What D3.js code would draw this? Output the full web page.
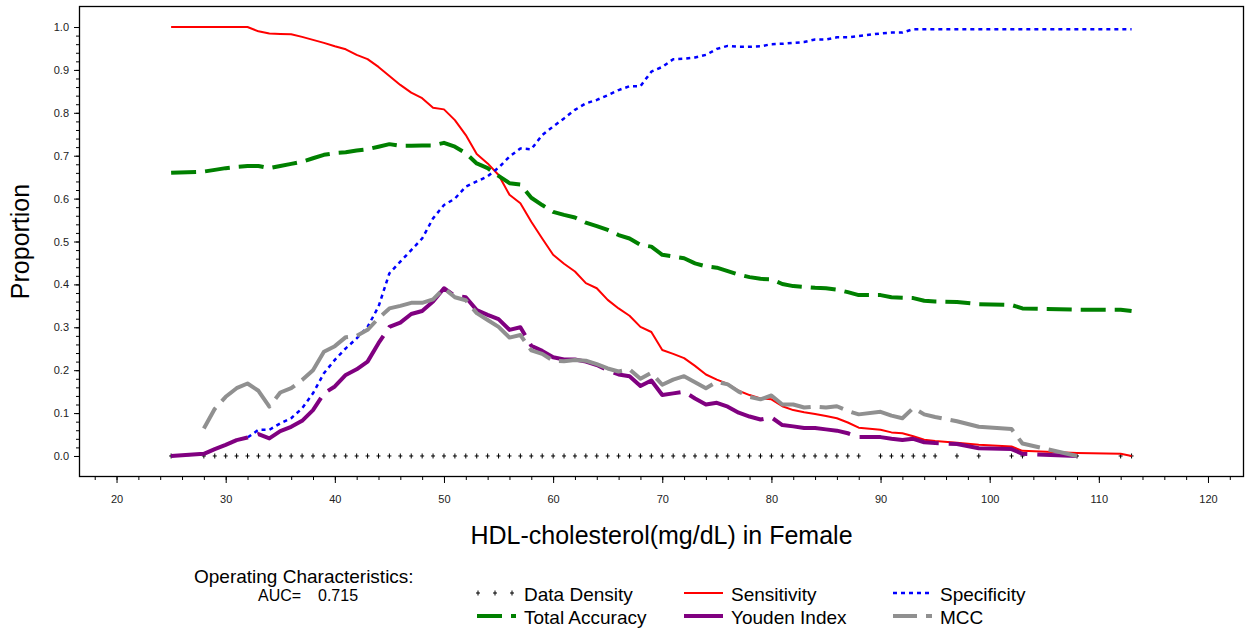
<!DOCTYPE html>
<html>
<head>
<meta charset="utf-8">
<script src="https://cdn.jsdelivr.net/npm/d3@7"></script>
<style>
  html, body { margin: 0; padding: 0; background: #fff; }
  svg { display: block; font-family: "Liberation Sans", Arial, sans-serif; }
</style>
</head>
<body>
<svg id="chart" width="1253" height="632"></svg>
<script>
// ---- data ----
const cutoffs = [25,28,29,30,31,32,33,34,35,36,37,38,39,40,41,42,43,44,45,46,47,48,49,50,51,52,53,54,55,56,57,58,59,60,61,62,63,64,65,66,67,68,69,70,71,72,73,74,75,76,77,78,79,80,81,82,83,84,85,86,87,88,90,91,92,93,94,95,97,99,102,103,108,112,113];

const sensitivity = [1.000,1.000,1.000,1.000,1.000,1.000,0.990,0.985,0.984,0.983,0.977,0.970,0.963,0.955,0.948,0.935,0.925,0.907,0.886,0.865,0.847,0.834,0.812,0.808,0.783,0.748,0.704,0.682,0.655,0.609,0.589,0.546,0.507,0.469,0.448,0.430,0.403,0.391,0.364,0.344,0.327,0.301,0.289,0.247,0.238,0.228,0.210,0.190,0.178,0.168,0.152,0.142,0.134,0.132,0.116,0.107,0.102,0.098,0.093,0.088,0.078,0.066,0.061,0.055,0.053,0.046,0.038,0.035,0.031,0.026,0.022,0.012,0.007,0.005,0.000];

const specificity = [0.000,0.005,0.016,0.026,0.037,0.043,0.061,0.061,0.076,0.088,0.111,0.146,0.193,0.224,0.251,0.274,0.301,0.348,0.426,0.453,0.480,0.507,0.554,0.585,0.600,0.628,0.640,0.652,0.672,0.698,0.717,0.715,0.748,0.768,0.787,0.807,0.822,0.830,0.841,0.853,0.862,0.862,0.896,0.907,0.925,0.926,0.929,0.935,0.949,0.956,0.954,0.954,0.955,0.960,0.961,0.963,0.965,0.971,0.971,0.976,0.976,0.979,0.985,0.987,0.987,0.995,0.995,0.995,0.995,0.995,0.995,0.995,0.995,0.995,0.995];

const totalAccuracy = [0.660,0.663,0.667,0.671,0.674,0.676,0.676,0.671,0.676,0.681,0.686,0.694,0.702,0.706,0.708,0.712,0.715,0.721,0.727,0.723,0.723,0.724,0.724,0.730,0.721,0.706,0.682,0.671,0.653,0.636,0.633,0.602,0.585,0.569,0.562,0.556,0.544,0.536,0.527,0.515,0.507,0.492,0.488,0.469,0.465,0.461,0.449,0.442,0.439,0.431,0.423,0.417,0.413,0.412,0.401,0.396,0.394,0.392,0.391,0.388,0.382,0.375,0.375,0.370,0.369,0.368,0.362,0.360,0.359,0.354,0.352,0.344,0.341,0.341,0.338];

const youden = [0.000,0.005,0.016,0.026,0.037,0.043,0.051,0.041,0.058,0.068,0.082,0.107,0.146,0.162,0.189,0.202,0.220,0.263,0.301,0.311,0.331,0.338,0.360,0.391,0.373,0.370,0.340,0.329,0.319,0.294,0.300,0.257,0.245,0.230,0.225,0.225,0.220,0.212,0.200,0.190,0.186,0.163,0.176,0.142,0.146,0.150,0.134,0.120,0.124,0.115,0.101,0.092,0.085,0.090,0.072,0.069,0.065,0.065,0.062,0.059,0.053,0.044,0.044,0.040,0.037,0.040,0.032,0.030,0.028,0.018,0.016,0.005,0.000,null,null];

const mcc = [null,0.064,0.110,0.138,0.158,0.169,0.152,0.115,0.148,0.158,0.177,0.200,0.243,0.256,0.277,0.280,0.294,0.321,0.344,0.350,0.357,0.357,0.365,0.391,0.370,0.363,0.333,0.317,0.301,0.276,0.282,0.246,0.238,0.222,0.221,0.224,0.222,0.214,0.204,0.197,0.202,0.180,0.194,0.166,0.178,0.186,0.172,0.158,0.173,0.167,0.150,0.138,0.132,0.141,0.120,0.120,0.113,0.115,0.113,0.116,0.105,0.097,0.103,0.094,0.088,0.112,0.097,0.091,0.081,0.068,0.063,0.029,0.000,null,null];

const densityX = cutoffs;

const xTicks = [20,30,40,50,60,70,80,90,100,110,120];
const yTicks = [0,0.1,0.2,0.3,0.4,0.5,0.6,0.7,0.8,0.9,1.0];
const xMinorTicks = d3.range(18, 124, 2);
const yMinorTicks = d3.range(0, 51).map(i => i * 0.02).filter(v => v <= 1.0001);

const xTitle = "HDL-cholesterol(mg/dL) in Female";
const yTitle = "Proportion";
const aucLabel = "AUC=";
const aucValue = "0.715";
const legendTitle = "Operating Characteristics:";

// ---- series styling ----
const series = [
  { name: "Sensitivity",    values: sensitivity,   color: "#ff0000", width: 2,   dash: null },
  { name: "Specificity",    values: specificity,   color: "#0000ff", width: 2.5, dash: "4,4" },
  { name: "Total Accuracy", values: totalAccuracy, color: "#008000", width: 4,   dash: "25,9" },
  { name: "Youden Index",   values: youden,        color: "#800080", width: 4,   dash: "80,10" },
  { name: "MCC",            values: mcc,           color: "#909090", width: 4,   dash: "24,9,65,9" }
];

const svg = d3.select("#chart");
const L = 79, R = 1244, T = 6, B = 477;

const x = d3.scaleLinear().domain([16.56, 123.3]).range([L, R]);
const y = d3.scaleLinear().domain([-0.049, 1.049]).range([B, T]);

// axes
const font = "'Liberation Sans', Arial, sans-serif";
const gy = svg.append("g").attr("transform", `translate(${L},0)`)
  .call(d3.axisLeft(y).tickValues(yTicks).tickSize(5).tickPadding(5).tickFormat(d3.format(".1f")));
const gyMinor = svg.append("g").attr("transform", `translate(${L},0)`)
  .call(d3.axisLeft(y).tickValues(yMinorTicks).tickSize(3).tickFormat(""));
const gx = svg.append("g").attr("transform", `translate(0,${B})`)
  .call(d3.axisBottom(x).tickValues(xTicks).tickSize(6).tickPadding(12).tickFormat(d3.format("d")));
const gxMinor = svg.append("g").attr("transform", `translate(0,${B})`)
  .call(d3.axisBottom(x).tickValues(xMinorTicks).tickSize(3).tickFormat(""));
[gy, gyMinor, gx, gxMinor].forEach(g => {
  g.select(".domain").remove();
  g.selectAll("text").attr("font-size", 11).attr("font-family", font).attr("fill", "#222");
  g.selectAll("line").attr("stroke", "#000");
});

// frame
svg.append("rect").attr("x", L + 0.5).attr("y", T + 0.5)
  .attr("width", R - L - 1).attr("height", B - T - 1)
  .attr("fill", "none").attr("stroke", "#000").attr("stroke-width", 1.3);

// density markers
const plusPath = "M-2,0H2M0,-2.5V2.5";
svg.append("g").selectAll("path").data(densityX).join("path")
  .attr("d", plusPath)
  .attr("transform", d => `translate(${x(d)},${y(0)})`)
  .attr("stroke", "#000").attr("stroke-width", 1).attr("fill", "none");

// lines
const line = d3.line()
  .defined(d => d[1] !== null)
  .x(d => x(d[0])).y(d => y(d[1]));

series.forEach(s => {
  const pts = cutoffs.map((c, i) => [c, s.values[i]]);
  svg.append("path").datum(pts)
    .attr("d", line)
    .attr("fill", "none")
    .attr("stroke", s.color)
    .attr("stroke-width", s.width)
    .attr("stroke-linejoin", "round")
    .attr("stroke-dasharray", s.dash);
});

// axis titles
svg.append("text").attr("x", (L + R) / 2).attr("y", 544)
  .attr("text-anchor", "middle").attr("font-size", 25).attr("font-family", font)
  .text(xTitle);
svg.append("text").attr("transform", `translate(29,${(T + B) / 2}) rotate(-90)`)
  .attr("text-anchor", "middle").attr("font-size", 25).attr("font-family", font)
  .text(yTitle);

// legend
svg.append("text").attr("x", 194).attr("y", 583).attr("font-size", 19).attr("font-family", font).text(legendTitle);
svg.append("text").attr("x", 258).attr("y", 601).attr("font-size", 16).attr("font-family", font).text(aucLabel);
svg.append("text").attr("x", 318).attr("y", 601).attr("font-size", 16).attr("font-family", font).text(aucValue);

const legendItems = [
  { name: "Data Density",   col: 0, row: 0, type: "density" },
  { name: "Sensitivity",    col: 1, row: 0, s: series[0] },
  { name: "Specificity",    col: 2, row: 0, s: series[1] },
  { name: "Total Accuracy", col: 0, row: 1, s: series[2] },
  { name: "Youden Index",   col: 1, row: 1, s: series[3] },
  { name: "MCC",            col: 2, row: 1, s: series[4] }
];
const colX = [477, 684, 893];
const rowY = [601, 624];
legendItems.forEach(it => {
  const lx = colX[it.col], ly = rowY[it.row] - 8;
  if (it.type === "density") {
    [1, 18, 35].forEach(dx => {
      svg.append("path").attr("d", plusPath)
        .attr("transform", `translate(${lx + dx},${ly})`)
        .attr("stroke", "#000").attr("stroke-width", 1).attr("fill", "none");
    });
  } else {
    svg.append("line").attr("x1", lx).attr("x2", lx + 39).attr("y1", ly).attr("y2", ly)
      .attr("stroke", it.s.color).attr("stroke-width", it.s.width)
      .attr("stroke-dasharray", it.s.dash);
  }
  svg.append("text").attr("x", lx + 47).attr("y", rowY[it.row])
    .attr("font-size", 19).attr("font-family", font).text(it.name);
});
</script>
</body>
</html>
